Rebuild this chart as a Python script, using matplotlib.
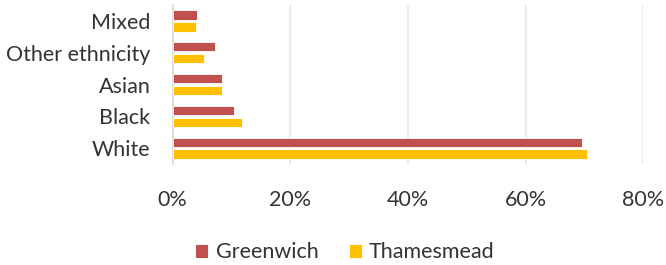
import matplotlib
matplotlib.use("Agg")
import matplotlib.pyplot as plt
from matplotlib.ticker import FuncFormatter
import numpy as np

categories = ["White", "Black", "Asian", "Other ethnicity", "Mixed"]
greenwich = [69.6, 10.5, 8.4, 7.2, 4.1]
thamesmead = [70.5, 11.7, 8.3, 5.4, 3.9]
xticks = [0, 20, 40, 60, 80]

plt.rcParams['font.family'] = ['Lato', 'DejaVu Sans']

fig = plt.figure(figsize=(6.66, 2.65), dpi=100)
ax = fig.add_axes([0.2593, 0.381, 0.7066, 0.600])

y = np.arange(len(categories))
h = 0.29
off = 0.1875
ax.barh(y + off, greenwich, height=h, color="#C0504D", edgecolor="white", linewidth=0.6, label="Greenwich", zorder=3)
ax.barh(y - off, thamesmead, height=h, color="#FFC000", edgecolor="white", linewidth=0.6, label="Thamesmead", zorder=3)

ax.set_xlim(0, 80)
ax.set_ylim(-0.5, 4.5)
ax.set_xticks(xticks)
ax.xaxis.set_major_formatter(FuncFormatter(lambda v, p: f"{v:.0f}%"))
ax.set_yticks(y)
ax.set_yticklabels(categories)
ax.grid(axis="x", color="#EEECE1", linewidth=1.5, zorder=0)
for s in ["top", "right", "bottom"]:
    ax.spines[s].set_visible(False)
ax.spines["left"].set_color("#D9D9D9")
ax.spines["left"].set_linewidth(1.2)
ax.tick_params(axis="both", length=0, labelsize=15.5, colors="#333333")
ax.tick_params(axis="x", pad=19)
ax.tick_params(axis="y", pad=16)

leg = fig.legend(loc="center", bbox_to_anchor=(0.518, 0.048), ncol=2, frameon=False,
                 fontsize=15.5, handlelength=0.6, handleheight=0.6, handletextpad=0.35,
                 columnspacing=1.4)
for t in leg.get_texts():
    t.set_color("#333333")

fig.savefig("out.png", dpi=100)
